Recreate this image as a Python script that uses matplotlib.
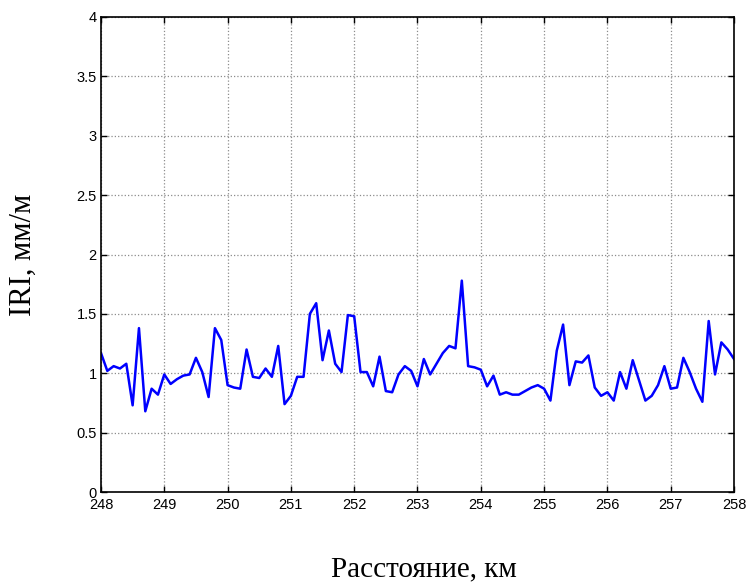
import numpy as np
import matplotlib.pyplot as plt
from matplotlib.ticker import FuncFormatter

# расстояние, км (шаг 0.1)
distance_km = np.round(np.arange(248.0, 258.01, 0.1), 1)

# IRI, мм/м
iri = [
    1.17, 1.02, 1.06, 1.04, 1.08, 0.73, 1.38, 0.68, 0.87, 0.82,
    0.99, 0.91, 0.95, 0.98, 0.99, 1.13, 1.01, 0.80, 1.38, 1.28,
    0.90, 0.88, 0.87, 1.20, 0.97, 0.96, 1.04, 0.97, 1.23, 0.74,
    0.81, 0.97, 0.97, 1.50, 1.59, 1.11, 1.36, 1.08, 1.01, 1.49,
    1.48, 1.01, 1.01, 0.89, 1.14, 0.85, 0.84, 0.99, 1.06, 1.02,
    0.89, 1.12, 0.99, 1.08, 1.17, 1.23, 1.21, 1.78, 1.06, 1.05,
    1.03, 0.89, 0.98, 0.82, 0.84, 0.82, 0.82, 0.85, 0.88, 0.90,
    0.87, 0.77, 1.19, 1.41, 0.90, 1.10, 1.09, 1.15, 0.88, 0.81,
    0.84, 0.77, 1.01, 0.87, 1.11, 0.94, 0.77, 0.81, 0.90, 1.06,
    0.87, 0.88, 1.13, 1.01, 0.87, 0.76, 1.44, 0.99, 1.26, 1.20,
    1.12,
]

x_ticks = list(range(248, 259))
y_ticks = [0, 0.5, 1, 1.5, 2, 2.5, 3, 3.5, 4]

fig = plt.figure(figsize=(7.48, 5.84), dpi=100)
ax = fig.add_axes([0.135, 0.1575, 0.8463, 0.8134])

ax.plot(distance_km, iri, color='#0000ff', linewidth=1.8)

ax.set_xlim(248, 258)
ax.set_ylim(0, 4)
ax.set_xticks(x_ticks)
ax.set_yticks(y_ticks)
ax.yaxis.set_major_formatter(FuncFormatter(lambda v, p: '%g' % v))
ax.grid(True, linestyle=':', color='#8c8c8c', linewidth=0.9)

ax.tick_params(direction='in', length=4, width=1, top=True, right=True,
               labelsize=10.5)
ax.tick_params(axis='x', pad=4)
ax.tick_params(axis='y', pad=3)
for lbl in ax.get_xticklabels() + ax.get_yticklabels():
    lbl.set_family('Liberation Sans')
for sp in ax.spines.values():
    sp.set_linewidth(1.2)

ax.set_xlabel('Расстояние, км', family='Liberation Serif', fontsize=21, labelpad=31)
ax.xaxis.set_label_coords(0.51, -0.135)
ax.set_ylabel('IRI, мм/м', family='Liberation Serif', fontsize=22, labelpad=28)

fig.savefig('out.png', dpi=100)
